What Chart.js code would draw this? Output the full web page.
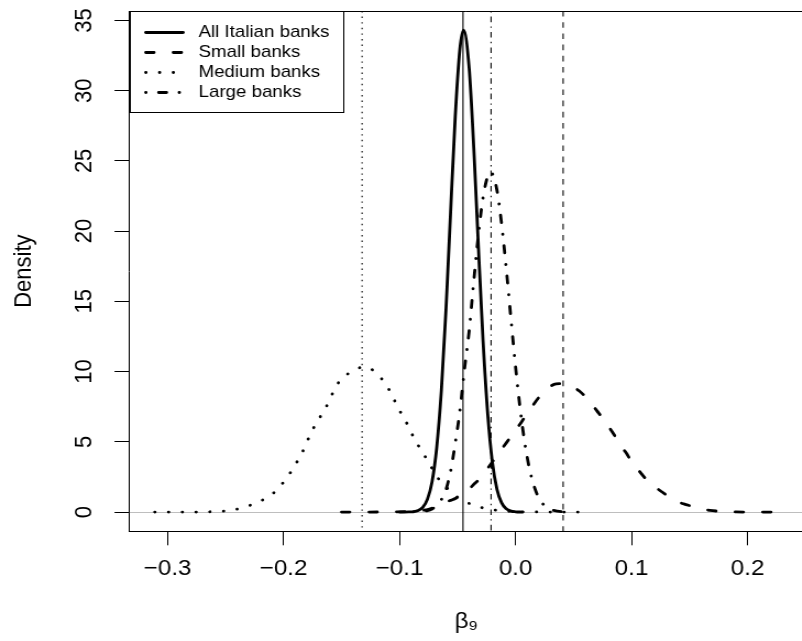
<!DOCTYPE html>
<html><head><meta charset="utf-8">
<script src="https://cdn.jsdelivr.net/npm/chart.js@4.4.1/dist/chart.umd.min.js"></script>
<style>
html,body{margin:0;padding:0;background:#fff;overflow:hidden;}
#wrap{width:730px;height:641px;transform:scaleX(1.1);transform-origin:0 0;}
canvas{display:block;}
</style></head><body>
<div id="wrap"><canvas id="c" width="730" height="641"></canvas></div>
<script>
// ---- data ----
const seriesNames = ['All Italian banks', 'Small banks', 'Medium banks', 'Large banks'];

const allX = [-0.100, -0.096, -0.092, -0.088, -0.084, -0.080, -0.076, -0.072, -0.068, -0.064, -0.060, -0.056, -0.052, -0.048, -0.0448, -0.040, -0.036, -0.032, -0.028, -0.024, -0.020, -0.016, -0.012, -0.008, -0.004, 0.000, 0.006];
const allY = [0, 0, 0.01, 0.03, 0.11, 0.33, 0.90, 2.15, 4.56, 8.60, 14.37, 21.35, 28.14, 32.94, 34.30, 31.6, 25.9, 18.83, 12.17, 6.98, 3.55, 1.61, 0.65, 0.23, 0.07, 0.02, 0];

const smallX = [-0.150, -0.130, -0.110, -0.090, -0.080, -0.075, -0.070, -0.065, -0.060, -0.055, -0.050, -0.045, -0.040, -0.035, -0.030, -0.025, -0.020, -0.015, -0.010, -0.005, 0.000, 0.005, 0.010, 0.015, 0.020, 0.025, 0.030, 0.035, 0.040, 0.045, 0.050, 0.055, 0.060, 0.065, 0.070, 0.075, 0.080, 0.085, 0.090, 0.095, 0.100, 0.105, 0.110, 0.115, 0.120, 0.125, 0.130, 0.135, 0.140, 0.145, 0.150, 0.155, 0.160, 0.170, 0.180, 0.190, 0.200, 0.210, 0.225];
const smallY = [0, 0, 0.01, 0.05, 0.12, 0.2, 0.35, 0.58, 0.74, 0.86, 1.05, 1.35, 1.65, 2.05, 2.44, 3.0, 3.57, 4.13, 4.7, 5.26, 5.83, 6.4, 7.0, 7.6, 8.15, 8.6, 8.95, 9.12, 9.14, 9.05, 8.87, 8.62, 8.23, 7.75, 7.22, 6.7, 6.1, 5.5, 4.78, 4.25, 3.6, 3.08, 2.58, 2.1, 1.8, 1.5, 1.22, 0.96, 0.72, 0.58, 0.46, 0.33, 0.22, 0.1, 0.03, 0.01, 0, 0, 0];

const mediumX = [-0.311, -0.300, -0.289, -0.278, -0.267, -0.256, -0.245, -0.235, -0.225, -0.215, -0.207, -0.200, -0.194, -0.189, -0.184, -0.180, -0.176, -0.171, -0.166, -0.161, -0.157, -0.152, -0.144, -0.135, -0.130, -0.125, -0.117, -0.111, -0.106, -0.102, -0.097, -0.092, -0.088, -0.083, -0.078, -0.073, -0.068, -0.063, -0.058, -0.053, -0.048, -0.043, -0.035, -0.025, -0.014, -0.004, 0.006, 0.020, 0.035, 0.050, 0.062];
const mediumY = [0, 0, 0, 0, 0.01, 0.05, 0.11, 0.33, 0.59, 1.0, 1.47, 2.13, 2.82, 3.49, 4.22, 4.96, 5.70, 6.41, 7.12, 7.83, 8.59, 9.28, 9.87, 10.26, 10.35, 10.21, 9.64, 8.97, 8.26, 7.52, 6.81, 6.05, 5.34, 4.63, 3.96, 3.25, 2.54, 2.05, 1.62, 1.25, 0.95, 0.72, 0.47, 0.23, 0.11, 0.05, 0.02, 0.005, 0, 0, 0];

const largeX = [-0.088, -0.084, -0.080, -0.076, -0.072, -0.068, -0.064, -0.060, -0.056, -0.052, -0.048, -0.044, -0.040, -0.036, -0.032, -0.028, -0.024, -0.0215, -0.020, -0.016, -0.012, -0.008, -0.004, 0.000, 0.004, 0.008, 0.012, 0.016, 0.020, 0.024, 0.028, 0.032, 0.036, 0.040, 0.044];
const largeY = [0.01, 0.02, 0.05, 0.10, 0.22, 0.46, 0.88, 1.6, 2.9, 4.9, 7.2, 10.2, 12.9, 16.45, 19.76, 22.39, 23.92, 24.2, 24.1, 22.89, 20.5, 17.32, 13.79, 10.35, 7.33, 4.90, 3.08, 1.83, 1.02, 0.54, 0.27, 0.13, 0.06, 0.02, 0.01];

// vertical reference lines (one per series, same order)
const meanLines = [-0.0453, 0.0410, -0.1323, -0.0211];

const xTicks = [-0.3, -0.2, -0.1, 0.0, 0.1, 0.2];
const yTicks = [0, 5, 10, 15, 20, 25, 30, 35];
const xTitle = 'β₉';
const yTitle = 'Density';

// ---- styles ----
const FONT = "'Liberation Sans', Arial, Helvetica, sans-serif";
const curveDash = [[], [7.5, 17.5], [0.2, 12.3], [0.2, 11.5, 7.2, 11.5]];
const refDash = [[], [5.6, 5.6], [1.4, 4.2], [1.4, 4.2, 5.6, 4.2]];
const LW = 2.8;

const xs = [allX, smallX, mediumX, largeX];
const ys = [allY, smallY, mediumY, largeY];

Chart.defaults.font.family = FONT;
Chart.defaults.color = '#000';

const datasets = seriesNames.map((name, i) => ({
  label: name,
  data: xs[i].map((v, k) => ({x: v, y: ys[i][k]})),
  borderColor: '#000',
  borderWidth: LW,
  borderDash: curveDash[i],
  borderCapStyle: 'round',
  borderJoinStyle: 'round',
  pointRadius: 0,
  fill: false,
  cubicInterpolationMode: 'monotone'
}));

const extras = {
  id: 'extras',
  beforeDatasetsDraw(chart) {
    const {ctx, chartArea: a, scales: {x, y}} = chart;
    ctx.save();
    ctx.beginPath(); ctx.rect(a.left, a.top, a.right - a.left, a.bottom - a.top); ctx.clip();
    const y0 = Math.floor(y.getPixelForValue(0)) + 0.5;
    ctx.strokeStyle = '#bebebe'; ctx.lineWidth = 1; ctx.setLineDash([]);
    ctx.beginPath(); ctx.moveTo(a.left, y0); ctx.lineTo(a.right, y0); ctx.stroke();
    meanLines.forEach((v, i) => {
      const px = x.getPixelForValue(v);
      ctx.strokeStyle = '#000'; ctx.lineWidth = 1.1; ctx.lineCap = 'butt';
      ctx.setLineDash(refDash[i]);
      ctx.beginPath(); ctx.moveTo(px, a.top); ctx.lineTo(px, a.bottom); ctx.stroke();
    });
    ctx.restore();
  },
  afterDraw(chart) {
    const {ctx, chartArea: a} = chart;
    ctx.save();
    // top edge of the plot box
    ctx.strokeStyle = '#000'; ctx.lineWidth = 1; ctx.setLineDash([]);
    const t = Math.round(a.top) + 0.5;
    ctx.beginPath(); ctx.moveTo(a.left, t); ctx.lineTo(a.right, t); ctx.stroke();
    // legend
    const lx = Math.round(a.left) + 0.5, ly = t;
    ctx.fillStyle = '#fff';
    ctx.fillRect(lx, ly, 194, 101);
    ctx.strokeRect(lx, ly, 194, 101);
    ctx.font = '17px ' + FONT;
    ctx.textBaseline = 'middle';
    ctx.textAlign = 'left';
    chart.data.datasets.forEach((ds, i) => {
      const ry = ly + 21 + i * 20;
      ctx.strokeStyle = '#000'; ctx.lineWidth = LW; ctx.lineCap = 'round';
      ctx.setLineDash(ds.borderDash);
      ctx.beginPath(); ctx.moveTo(lx + 14, ry); ctx.lineTo(lx + 48, ry); ctx.stroke();
      ctx.fillStyle = '#000';
      ctx.fillText(ds.label, lx + 62, ry);
    });
    ctx.restore();
  }
};

function fmtX(v) {
  const r = Math.round(v * 10) / 10;
  if (r < 0) return '\u2212' + Math.abs(r).toFixed(1);
  return Math.abs(r).toFixed(1);
}

new Chart(document.getElementById('c'), {
  type: 'line',
  data: {datasets},
  options: {
    responsive: false,
    animation: false,
    layout: {padding: {top: 11, right: 0, left: 0, bottom: 0}},
    plugins: {legend: {display: false}, tooltip: {enabled: false}},
    scales: {
      x: {
        type: 'linear', min: -0.3328, max: 0.2478,
        afterBuildTicks: s => { s.ticks = xTicks.map(v => ({value: v})); },
        afterFit: s => { s.height = 109.7; s.paddingLeft = 0; s.paddingRight = 0; },
        grid: {display: true, drawOnChartArea: false, drawTicks: true, tickLength: 14, tickColor: '#000', color: '#000', tickWidth: 1},
        border: {display: true, color: '#000', width: 1},
        ticks: {autoSkip: false, maxRotation: 0, minRotation: 0, padding: 10, color: '#000', font: {size: 22}, callback: v => fmtX(v)},
        title: {display: true, text: xTitle, color: '#000', font: {size: 22}, padding: {top: 6, bottom: 6}}
      },
      y: {
        type: 'linear', min: -1.37, max: 35.67,
        afterBuildTicks: s => { s.ticks = yTicks.map(v => ({value: v})); },
        afterFit: s => { s.width = 117.7; s.paddingTop = 0; s.paddingBottom = 0; },
        grid: {display: true, drawOnChartArea: false, drawTicks: true, tickLength: 13.6, tickColor: '#000', color: '#000', tickWidth: 1},
        border: {display: true, color: '#000', width: 1},
        ticks: {autoSkip: false, minRotation: 90, maxRotation: 90, crossAlign: 'center', padding: 15, color: '#000', font: {size: 22}, callback: v => String(v)},
        title: {display: true, text: yTitle, color: '#000', font: {size: 22}, padding: {top: 8.6, bottom: 8.6}}
      }
    }
  },
  plugins: [extras]
});
</script>
</body></html>
